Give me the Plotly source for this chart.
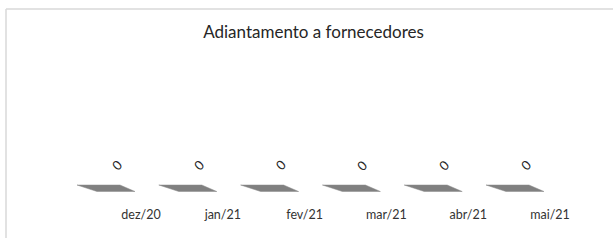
import plotly.graph_objects as go

categories = ["dez/20", "jan/21", "fev/21", "mar/21", "abr/21", "mai/21"]
values = [0, 0, 0, 0, 0, 0]
title_text = "Adiantamento a fornecedores"

W, H = 613, 248
L, R, T, B = 20, 8, 40, 43
plot_w = W - L - R
plot_h = H - T - B
cat_px = 81.8
x0 = -(141 - L) / cat_px
x1 = x0 + plot_w / cat_px

fig = go.Figure()

# 3D-like flat bars (value 0 -> only floor face visible)
top_off = (-64 / cat_px, -21 / cat_px)
bot_off = (-6 / cat_px, -44 / cat_px)
depth = 6.5
for i, v in enumerate(values):
    xs = [i + top_off[0], i + top_off[1], i + bot_off[0], i + bot_off[1], i + top_off[0]]
    ys = [v, v, v - depth, v - depth, v]
    fig.add_trace(go.Scatter(x=xs, y=ys, mode="lines", fill="toself",
                             fillcolor="#808080", line=dict(color="#8a8a8a", width=0.5),
                             hoverinfo="skip", showlegend=False))
    fig.add_annotation(x=i - 24 / cat_px, y=v + 20, text=str(v), showarrow=False,
                       textangle=-45, font=dict(family="Lato", size=13, color="#262626"))

fig.update_layout(
    width=W, height=H,
    margin=dict(l=L, r=R, t=T, b=B),
    paper_bgcolor="white", plot_bgcolor="white",
    title=dict(text=title_text, x=313.5 / W, xref="container", xanchor="center",
               y=1 - 32 / H, yref="container", yanchor="middle",
               font=dict(family="Lato", size=17, color="#262626")),
    xaxis=dict(range=[x0, x1], tickvals=list(range(len(categories))), ticktext=categories,
               showgrid=False, zeroline=False, showline=False, ticks="",
               tickfont=dict(family="Lato", size=12.5, color="#333333")),
    yaxis=dict(range=[-20, plot_h - 20], showgrid=False, zeroline=False, showline=False,
               showticklabels=False),
    shapes=[
        dict(type="line", xref="paper", yref="paper",
             x0=(6 - L) / plot_w, x1=(W + 5 - L) / plot_w,
             y0=(H - B - 9) / plot_h, y1=(H - B - 9) / plot_h,
             line=dict(color="#d9d9d9", width=1.5)),
        dict(type="line", xref="paper", yref="paper",
             x0=(6 - L) / plot_w, x1=(6 - L) / plot_w,
             y0=(H - B - 9) / plot_h, y1=(H - B + 10 - H) / plot_h,
             line=dict(color="#d9d9d9", width=1.5)),
    ],
)

fig.write_html("out.html", config={"displayModeBar": False},
               post_script="document.body.style.margin='0';")
